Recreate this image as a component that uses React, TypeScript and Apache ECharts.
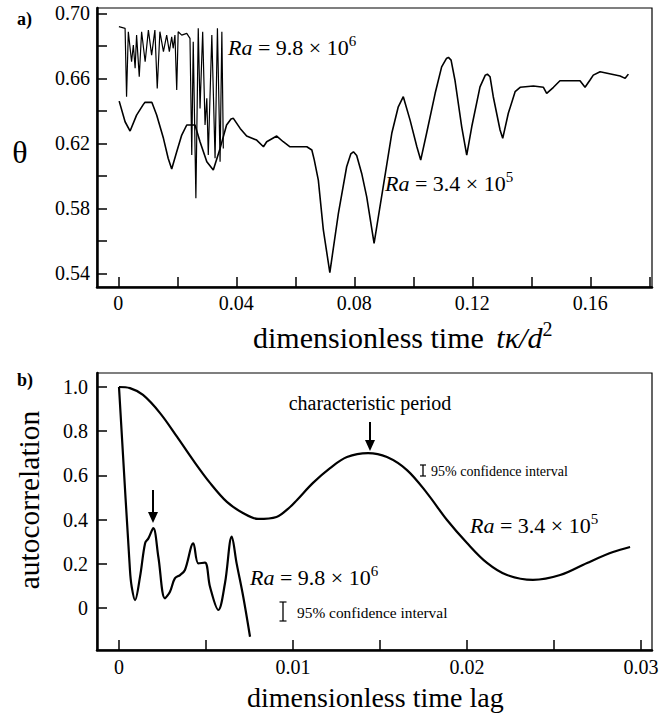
import React, { useEffect, useRef } from 'react';
import * as echarts from 'echarts';

// ---- panel a) : theta vs dimensionless time ----
const timeTicks = [0, 0.02, 0.04, 0.06, 0.08, 0.1, 0.12, 0.14, 0.16, 0.18];
const timeLabels = [0, 0.04, 0.08, 0.12, 0.16];
const thetaTicks = [0.54, 0.56, 0.58, 0.6, 0.62, 0.64, 0.66, 0.68, 0.7];
const thetaLabels = [0.54, 0.58, 0.62, 0.66, 0.7];

// Ra = 3.4e5 : [t, theta]
const thetaRa34: [number, number][] = [
  [0.0003, 0.646], [0.0023, 0.6333], [0.004, 0.6276], [0.0062, 0.6374], [0.0085, 0.644],
  [0.009, 0.6452], [0.0114, 0.6452], [0.013, 0.6374], [0.0153, 0.6231], [0.0169, 0.6108],
  [0.0181, 0.6042], [0.0198, 0.6148], [0.0215, 0.6251], [0.0232, 0.6313], [0.026, 0.6313],
  [0.0277, 0.621], [0.03, 0.6087], [0.0322, 0.6036], [0.0345, 0.6169], [0.0367, 0.6313],
  [0.0382, 0.635], [0.039, 0.6354], [0.0413, 0.6292], [0.0435, 0.6245], [0.0469, 0.622],
  [0.0492, 0.6179], [0.0503, 0.621], [0.0537, 0.6245], [0.0559, 0.621], [0.0582, 0.6179],
  [0.0639, 0.6179], [0.0656, 0.6159], [0.0664, 0.61], [0.0678, 0.5974], [0.0695, 0.5667],
  [0.0717, 0.5405], [0.0746, 0.5769], [0.0774, 0.6056], [0.0788, 0.6135], [0.0797, 0.6148],
  [0.0808, 0.6125], [0.0825, 0.6015], [0.0842, 0.5871], [0.0867, 0.5585], [0.0887, 0.581],
  [0.0898, 0.5933], [0.0927, 0.6262], [0.0949, 0.6425], [0.0966, 0.6487], [0.0989, 0.6343],
  [0.1012, 0.6179], [0.1025, 0.6097], [0.1045, 0.6262], [0.1074, 0.6508], [0.1096, 0.6671],
  [0.1112, 0.6722], [0.1119, 0.6729], [0.1128, 0.6712], [0.1141, 0.659], [0.1164, 0.6302],
  [0.1181, 0.6128], [0.1198, 0.6302], [0.1226, 0.6548], [0.1244, 0.662], [0.1251, 0.6626],
  [0.126, 0.661], [0.1271, 0.6487], [0.1294, 0.6282], [0.1303, 0.6231], [0.1322, 0.6385],
  [0.1345, 0.6518], [0.1362, 0.6545], [0.1407, 0.6553], [0.1441, 0.6545], [0.1452, 0.6508],
  [0.1475, 0.6545], [0.1497, 0.6585], [0.1565, 0.6585], [0.1582, 0.6545], [0.1599, 0.659],
  [0.161, 0.662], [0.1633, 0.6641], [0.1701, 0.6614], [0.1718, 0.66], [0.1729, 0.6626],
];

// Ra = 9.8e6 : [t, theta]
const thetaRa98: [number, number][] = [
  [0.0002, 0.6918], [0.0023, 0.6908], [0.0028, 0.6487], [0.0034, 0.6887], [0.0045, 0.6702],
  [0.0051, 0.6805], [0.0057, 0.6662], [0.0062, 0.6866], [0.0071, 0.661], [0.0079, 0.6887],
  [0.0091, 0.6702], [0.0102, 0.6897], [0.0113, 0.6743], [0.0124, 0.6897], [0.0132, 0.6538],
  [0.0141, 0.6887], [0.0153, 0.6764], [0.0164, 0.6866], [0.0173, 0.6764], [0.0181, 0.6856],
  [0.0186, 0.6785], [0.0192, 0.6866], [0.0198, 0.6528], [0.0203, 0.6887], [0.0215, 0.6866],
  [0.0232, 0.6877], [0.0243, 0.6846], [0.0249, 0.6128], [0.0254, 0.6825], [0.0263, 0.5862],
  [0.0271, 0.6908], [0.0277, 0.6415], [0.0286, 0.6887], [0.0294, 0.6313], [0.03, 0.6477],
  [0.0305, 0.6128], [0.0317, 0.6866], [0.0328, 0.6108], [0.0336, 0.6908], [0.0345, 0.6087],
  [0.0351, 0.6887], [0.0356, 0.6169],
];

// ---- panel b) : autocorrelation vs time lag ----
const lagTicks = [0, 0.005, 0.01, 0.015, 0.02, 0.025, 0.03];
const lagLabels = [0, 0.01, 0.02, 0.03];
const acfTicks = [0, 0.2, 0.4, 0.6, 0.8, 1.0];

const acfRa34: [number, number][] = [
  [0, 1.0], [0.00063, 0.995], [0.00138, 0.964], [0.00236, 0.882], [0.00334, 0.774],
  [0.00425, 0.67], [0.00523, 0.566], [0.0062, 0.48], [0.00712, 0.43], [0.00799, 0.403],
  [0.00905, 0.412], [0.00983, 0.457], [0.01023, 0.489], [0.01115, 0.566], [0.01213, 0.633],
  [0.0131, 0.683], [0.01431, 0.701], [0.0154, 0.683], [0.01655, 0.624], [0.0177, 0.52],
  [0.01885, 0.398], [0.02, 0.294], [0.02115, 0.204], [0.0223, 0.149], [0.02379, 0.127],
  [0.02535, 0.149], [0.0269, 0.204], [0.02839, 0.253], [0.02937, 0.276],
];

const acfRa98: [number, number][] = [
  [0, 1.0], [0.00063, 0.172], [0.00073, 0.096], [0.00092, 0.036], [0.00121, 0.142],
  [0.0015, 0.293], [0.00169, 0.315], [0.00197, 0.361], [0.00226, 0.232], [0.00264, 0.044],
  [0.00293, 0.074], [0.00321, 0.134], [0.00351, 0.149], [0.00379, 0.172], [0.00427, 0.293],
  [0.00456, 0.202], [0.00494, 0.205], [0.00523, 0.096], [0.00571, -0.009], [0.00609, 0.112],
  [0.00648, 0.323], [0.00676, 0.202], [0.00714, 0.051], [0.00753, -0.13],
];

const serif = 'Liberation Serif';

function fmt2(v: number) { return v === 0 ? '0' : v.toFixed(2); }
function fmt1(v: number) { return v === 0 ? '0' : v.toFixed(1); }

function axisCommon(ticks: number[], labels: number[], formatter: (v: number) => string, margin: number) {
  return {
    axisLine: { show: true, onZero: false, lineStyle: { color: '#000', width: 2.5 } },
    axisTick: { show: true, inside: true, length: 10, customValues: ticks, lineStyle: { color: '#000', width: 1.5 } },
    axisLabel: { customValues: labels, formatter, margin, color: '#000', fontSize: 20, fontFamily: serif },
    splitLine: { show: false },
  };
}

function mathText(x: number, y: number, text: string, size: number) {
  return {
    type: 'text', x, y, silent: true,
    style: {
      text,
      textAlign: 'left', textVerticalAlign: 'middle', align: 'left', verticalAlign: 'middle',
      fill: '#000', fontFamily: serif, fontSize: size,
      rich: {
        n: { fontFamily: serif, fontSize: size, lineHeight: size + 6, fill: '#000' },
        it: { fontFamily: serif, fontStyle: 'italic', fontSize: size, lineHeight: size + 6, fill: '#000' },
        itp: { fontFamily: serif, fontStyle: 'italic', fontSize: size, lineHeight: size + 6, fill: '#000', padding: [0, 0, 0, 5] },
        sup: { fontFamily: serif, fontSize: Math.round(size * 0.68), lineHeight: Math.round(size * 0.68), verticalAlign: 'top', fill: '#000' },
      },
    },
  };
}

function plainText(x: number, y: number, text: string, size: number, align = 'left', weight = 'normal', rotation = 0) {
  return {
    type: 'text', x, y, rotation, silent: true,
    style: {
      text, fill: '#000', fontFamily: serif, fontSize: size, fontWeight: weight,
      textAlign: align, textVerticalAlign: 'middle', align, verticalAlign: 'middle',
    },
  };
}

function arrow(x: number, y0: number, y1: number) {
  return [
    { type: 'line', silent: true, shape: { x1: x, y1: y0, x2: x, y2: y1 - 8 }, style: { stroke: '#000', lineWidth: 2 } },
    { type: 'polygon', silent: true, shape: { points: [[x - 5, y1 - 11], [x + 5, y1 - 11], [x, y1]] }, style: { fill: '#000' } },
  ];
}

function ibar(x: number, y0: number, y1: number, w: number) {
  return [
    { type: 'line', silent: true, shape: { x1: x, y1: y0, x2: x, y2: y1 }, style: { stroke: '#000', lineWidth: 1.3 } },
    { type: 'line', silent: true, shape: { x1: x - w / 2, y1: y0, x2: x + w / 2, y2: y0 }, style: { stroke: '#000', lineWidth: 1.2 } },
    { type: 'line', silent: true, shape: { x1: x - w / 2, y1: y1, x2: x + w / 2, y2: y1 }, style: { stroke: '#000', lineWidth: 1.2 } },
  ];
}

export default function App() {
  const ref = useRef<HTMLDivElement>(null);
  useEffect(() => {
    if (!ref.current) return;
    const chart = echarts.init(ref.current, undefined, { renderer: 'svg' });
    const option: any = {
      animation: false,
      backgroundColor: '#fff',
      grid: [
        { left: 97, top: 8, width: 555, height: 279, show: true, borderColor: '#000', borderWidth: 1.2, backgroundColor: 'transparent' },
        { left: 97, top: 373, width: 555, height: 277, show: true, borderColor: '#000', borderWidth: 1.2, backgroundColor: 'transparent' },
      ],
      xAxis: [
        { type: 'value', gridIndex: 0, min: -0.00722, max: 0.1809, ...axisCommon(timeTicks, timeLabels, fmt2, 6) },
        { type: 'value', gridIndex: 1, min: -0.001264, max: 0.03063, ...axisCommon(lagTicks, lagLabels, fmt2, 7) },
      ],
      yAxis: [
        { type: 'value', gridIndex: 0, min: 0.5316, max: 0.7033, ...axisCommon(thetaTicks, thetaLabels, (v: number) => v.toFixed(2), 7) },
        { type: 'value', gridIndex: 1, min: -0.19, max: 1.0633, ...axisCommon(acfTicks, acfTicks, fmt1, 9) },
      ],
      series: [
        { type: 'line', xAxisIndex: 0, yAxisIndex: 0, data: thetaRa34, showSymbol: false, lineStyle: { color: '#000', width: 1.6 } },
        { type: 'line', xAxisIndex: 0, yAxisIndex: 0, data: thetaRa98, showSymbol: false, lineStyle: { color: '#000', width: 1.2 } },
        { type: 'line', xAxisIndex: 1, yAxisIndex: 1, data: acfRa34, showSymbol: false, smooth: 0.35, lineStyle: { color: '#000', width: 2.2 } },
        { type: 'line', xAxisIndex: 1, yAxisIndex: 1, data: acfRa98, showSymbol: false, smooth: 0.35, lineStyle: { color: '#000', width: 2.2 } },
      ],
      graphic: [
        plainText(17, 19, 'a)', 18, 'left', 'bold'),
        plainText(20, 152, 'θ', 32, 'center'),
        mathText(228, 47, '{it|Ra}{n| = 9.8 × 10}{sup|6}', 22),
        mathText(385, 183, '{it|Ra}{n| = 3.4 × 10}{sup|5}', 22),
        mathText(253, 337, '{n|dimensionless time }{itp|tκ/d}{sup|2}', 30),
        plainText(17, 380, 'b)', 18, 'left', 'bold'),
        plainText(29, 500, 'autocorrelation', 29.5, 'center', 'normal', Math.PI / 2),
        plainText(370, 403, 'characteristic period', 20, 'center'),
        ...arrow(370, 422, 451),
        ...arrow(153, 490, 523),
        ...ibar(423, 465, 476, 6),
        plainText(431, 471, '95% confidence interval', 14),
        ...ibar(283, 602, 621, 7),
        plainText(297, 612, '95% confidence interval', 15.4),
        mathText(470, 525, '{it|Ra}{n| = 3.4 × 10}{sup|5}', 22),
        mathText(250, 577, '{it|Ra}{n| = 9.8 × 10}{sup|6}', 22),
        mathText(247, 697, '{n|dimensionless time lag}', 28),
      ],
    };
    chart.setOption(option);
    return () => chart.dispose();
  }, []);
  return <div ref={ref} style={{ position: 'absolute', left: 0, top: 0, width: 662, height: 715 }} />;
}
